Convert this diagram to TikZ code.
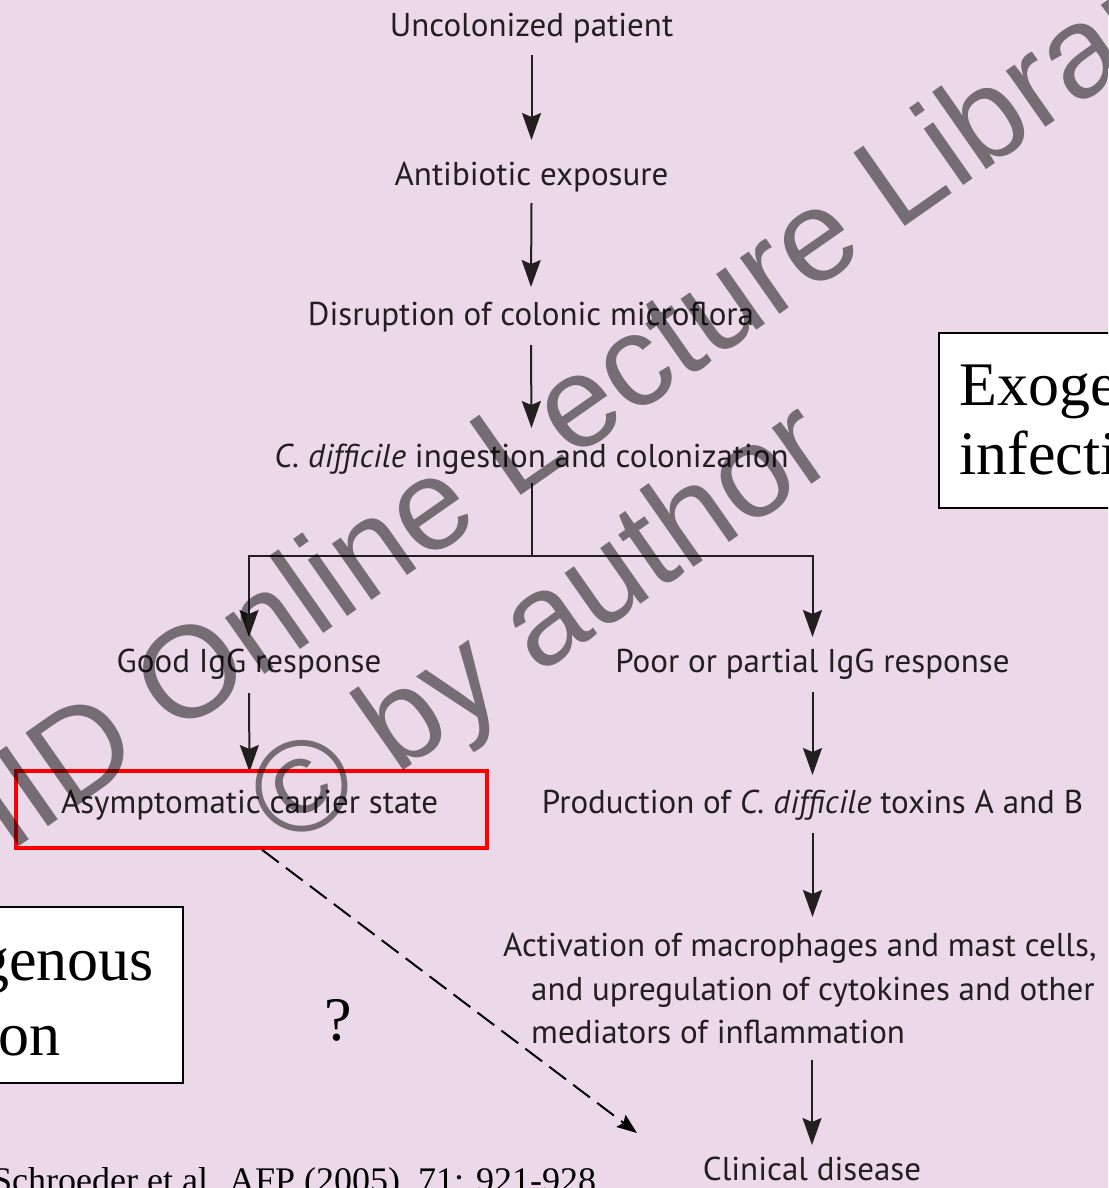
\documentclass[tikz,border=0pt]{standalone}
\usepackage{fontspec}
\newfontfamily\flowfont{PT Sans}
\newfontfamily\tmsfont{Liberation Serif}
\newfontfamily\wmfont{Liberation Sans}
\usetikzlibrary{arrows.meta,calc}
\definecolor{bgpink}{RGB}{235,217,234}
\definecolor{ink}{RGB}{35,31,32}
\begin{document}
\begin{tikzpicture}[x=1pt,y=-1pt,
  flow/.style={font={\flowfont\fontsize{33}{40}\selectfont}, text=ink, inner sep=0pt, anchor=base},
  tmsbig/.style={font={\tmsfont\fontsize{62}{70}\selectfont}, text=black, inner sep=0pt, anchor=base west},
  tmscite/.style={font={\tmsfont\fontsize{36}{40}\selectfont}, text=black, inner sep=0pt, anchor=base west},
  conn/.style={draw=ink, line width=2pt},
  arr/.style={draw=ink, line width=2pt, -{Stealth[length=27pt,width=19pt,inset=4pt]}},
  dasharr/.style={draw=black, line width=2pt, dash pattern=on 21pt off 9pt, -{Stealth[length=20pt,width=15pt,inset=3pt]}},
  sidebox/.style={draw=black, fill=white, line width=1.5pt, inner sep=0pt},
  wm/.style={font={\wmfont\fontsize{130}{130}\selectfont}, text=black, text opacity=0.5, inner sep=0pt, rotate=35, anchor=base west}
]
\fill[bgpink] (0,0) rectangle (1108,1188);
\useasboundingbox (0,0) rectangle (1108,1188);
\clip (0,0) rectangle (1108,1188);

% flow nodes
\node[flow] (n1) at (531.5,37) {Uncolonized patient};
\node[flow] (n2) at (531.5,185) {Antibiotic exposure};
\node[flow] (n3) at (531,325) {Disruption of colonic microflora};
\node[flow] (n4) at (531.5,467) {\textit{C. difficile} ingestion and colonization};
\node[flow] (n5) at (249,672) {Good IgG response};
\node[flow] (n6) at (812.5,672) {Poor or partial IgG response};
\node[flow] (n7) at (249.5,813) {Asymptomatic carrier state};
\node[flow] (n8) at (812.5,813) {Production of \textit{C. difficile} toxins A and B};
\node[flow, anchor=base west] (n9a) at (503,956) {Activation of macrophages and mast cells,};
\node[flow, anchor=base west] (n9b) at (531,1000) {and upregulation of cytokines and other};
\node[flow, anchor=base west] (n9c) at (531,1043) {mediators of inflammation};
\node[flow] (n10) at (812,1180) {Clinical disease};

% connectors
\draw[arr] ($(n1.base)+(0,18)$) -- ($(n2.base)+(0,-45)$);
\draw[arr] ($(n2.base)+(0,18)$) -- ($(n3.base)+(0,-38)$);
\draw[arr] ($(n3.base)+(0,20)$) -- ($(n4.base)+(0,-39)$);
\draw[conn] ($(n4.base)+(0,16)$) -- ($(n4.base)+(0,89)$) coordinate (split);
\draw[conn, line cap=rect] (split -| n5.base) -- (split -| n6.base);
\draw[arr] (split -| n5.base) -- ($(n5.base)+(0,-35)$);
\draw[arr] (split -| n6.base) -- ($(n6.base)+(0,-35)$);
\draw[arr] ($(n5.base)+(0,21)$) -- ($(n7.base)+(0,-41)$);
\draw[arr] ($(n6.base)+(0,20)$) -- ($(n8.base)+(0,-38)$);
\draw[arr] ($(n8.base)+(0,20)$) -- ($(n8.base |- n9a.base)+(0,-39)$);
\draw[arr] ($(n10.base |- n9c.base)+(0,17)$) -- ($(n10.base)+(0,-35)$);

% red highlight box
\node[draw=red, line width=3.5pt, minimum width=471pt, minimum height=77pt, inner sep=0pt] (carrier) at (251.5,809.5) {};
\coordinate (dashend) at (637,1133);
\draw[dasharr] ($(carrier.south)+(10.5,0)$) -- (dashend);
\node[font={\tmsfont\fontsize{62}{70}\selectfont}, inner sep=0pt, anchor=base] (q) at (338,1040) {?};

% side boxes
\node[sidebox, minimum width=261pt, minimum height=175pt] (exobox) at (1069.5,420.5) {};
\node[tmsbig] (exo1) at (959,405) {Exogenous};
\node[tmsbig] (exo2) at (959,474) {infection};
\node[sidebox, minimum width=283pt, minimum height=176pt] (endobox) at (41.5,995) {};
\node[tmsbig] (endo1) at (-153,980) {Endogenous};
\node[tmsbig] (endo2) at (-160,1055) {infection};

% citation
\node[tmscite] (cite) at (-8,1192) {Schroeder et al. AFP (2005)\hspace{0.5em}71: 921-928};

% watermark
\node[wm] (wm1) at (9,854) {IID Online Lecture Library};
\node[wm] (wm2) at (288,851) {© by author};
\end{tikzpicture}
\end{document}
